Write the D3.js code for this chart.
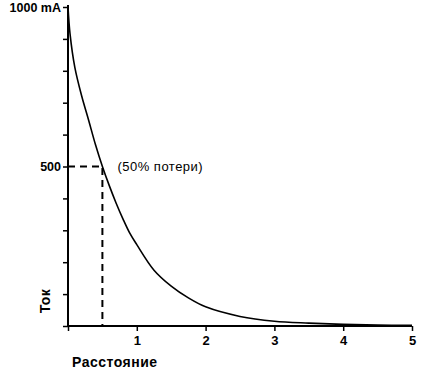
<!DOCTYPE html>
<html>
<head>
<meta charset="utf-8">
<script src="https://cdn.jsdelivr.net/npm/d3@7"></script>
<style>
  body { margin: 0; background: #fff; }
  svg { display: block; font-family: "Liberation Sans", Arial, sans-serif; }
</style>
</head>
<body>
<div id="chart"></div>
<script>
// distance (units) vs current (mA)
const distance = [0, 0.03, 0.1, 0.2, 0.3, 0.4, 0.5, 0.6, 0.7, 0.8, 0.9, 1.0, 1.25, 1.5, 1.75, 2.0, 2.5, 3.0, 3.5, 4.0, 4.5, 5.0]
const current = [1000, 915, 810, 720, 645, 568, 500, 440, 385, 335, 290, 255, 175, 125, 88, 60, 30, 15, 9, 5, 3, 2]
const xTicks = [0, 1, 2, 3, 4, 5]
const yTicks = [0, 100, 200, 300, 400, 500, 600, 700, 800, 900, 1000]
const yLabels = { 500: "500", 1000: "1000 mA" }
const halfPoint = { x: 0.5, y: 500, label: "(50% потери)" }

const width = 421
const height = 370

const svg = d3.select("#chart").append("svg")
  .attr("width", width)
  .attr("height", height)

const x = d3.scaleLinear().domain([0, 5]).range([68, 412])
const y = d3.scaleLinear().domain([0, 1000]).range([326, 7])

// x axis
const xAxis = svg.append("g")
  .attr("transform", `translate(0,${y(0)})`)
  .call(d3.axisBottom(x).tickValues(xTicks).tickSize(5)
    .tickFormat((d) => (d === 0 ? "" : d)))
xAxis.select(".domain").attr("d", `M${x(0) - 1},0H${x(5)}`).attr("stroke-width", 2)
xAxis.selectAll(".tick line").attr("stroke-width", 1.5)
xAxis.selectAll(".tick text")
  .attr("y", 10)
  .attr("font-size", 13)
  .attr("font-weight", "bold")
  .attr("font-family", "Liberation Sans, Arial, sans-serif")

// y axis
const yAxis = svg.append("g")
  .attr("transform", `translate(${x(0)},0)`)
  .call(d3.axisLeft(y).tickValues(yTicks).tickSize(5)
    .tickFormat((d) => yLabels[d] || ""))
yAxis.select(".domain").attr("d", `M0,${y(1000) - 2}V${y(0) + 1}`).attr("stroke-width", 2)
yAxis.selectAll(".tick line").attr("stroke-width", 1.5)
yAxis.selectAll(".tick text")
  .attr("x", -7)
  .attr("font-size", 12.5)
  .attr("font-weight", "bold")
  .attr("font-family", "Liberation Sans, Arial, sans-serif")

// dashed guides to the 50% point
svg.append("path")
  .attr("d", `M${x(0)},${y(halfPoint.y)}H${x(halfPoint.x)}V${y(0)}`)
  .attr("fill", "none")
  .attr("stroke", "#000")
  .attr("stroke-width", 2)
  .attr("stroke-dasharray", "7,5")

// curve
const line = d3.line()
  .x((d, i) => x(distance[i]))
  .y((d) => y(d))
  .curve(d3.curveCatmullRom.alpha(0.5))

svg.append("path")
  .datum(current)
  .attr("d", line)
  .attr("fill", "none")
  .attr("stroke", "#000")
  .attr("stroke-width", 1.6)

svg.append("text")
  .attr("x", x(halfPoint.x) + 15)
  .attr("y", y(halfPoint.y))
  .attr("dy", "0.35em")
  .attr("font-size", 13)
  .attr("letter-spacing", 0.5)
  .text(halfPoint.label)

// axis titles
svg.append("text")
  .attr("transform", `translate(50,301) rotate(-90)`)
  .attr("text-anchor", "middle")
  .attr("font-size", 14)
  .attr("font-weight", "bold")
  .attr("letter-spacing", 0.5)
  .text("Ток")

svg.append("text")
  .attr("x", 72)
  .attr("y", 367)
  .attr("font-size", 14)
  .attr("font-weight", "bold")
  .attr("letter-spacing", 0.5)
  .text("Расстояние")
</script>
</body>
</html>
